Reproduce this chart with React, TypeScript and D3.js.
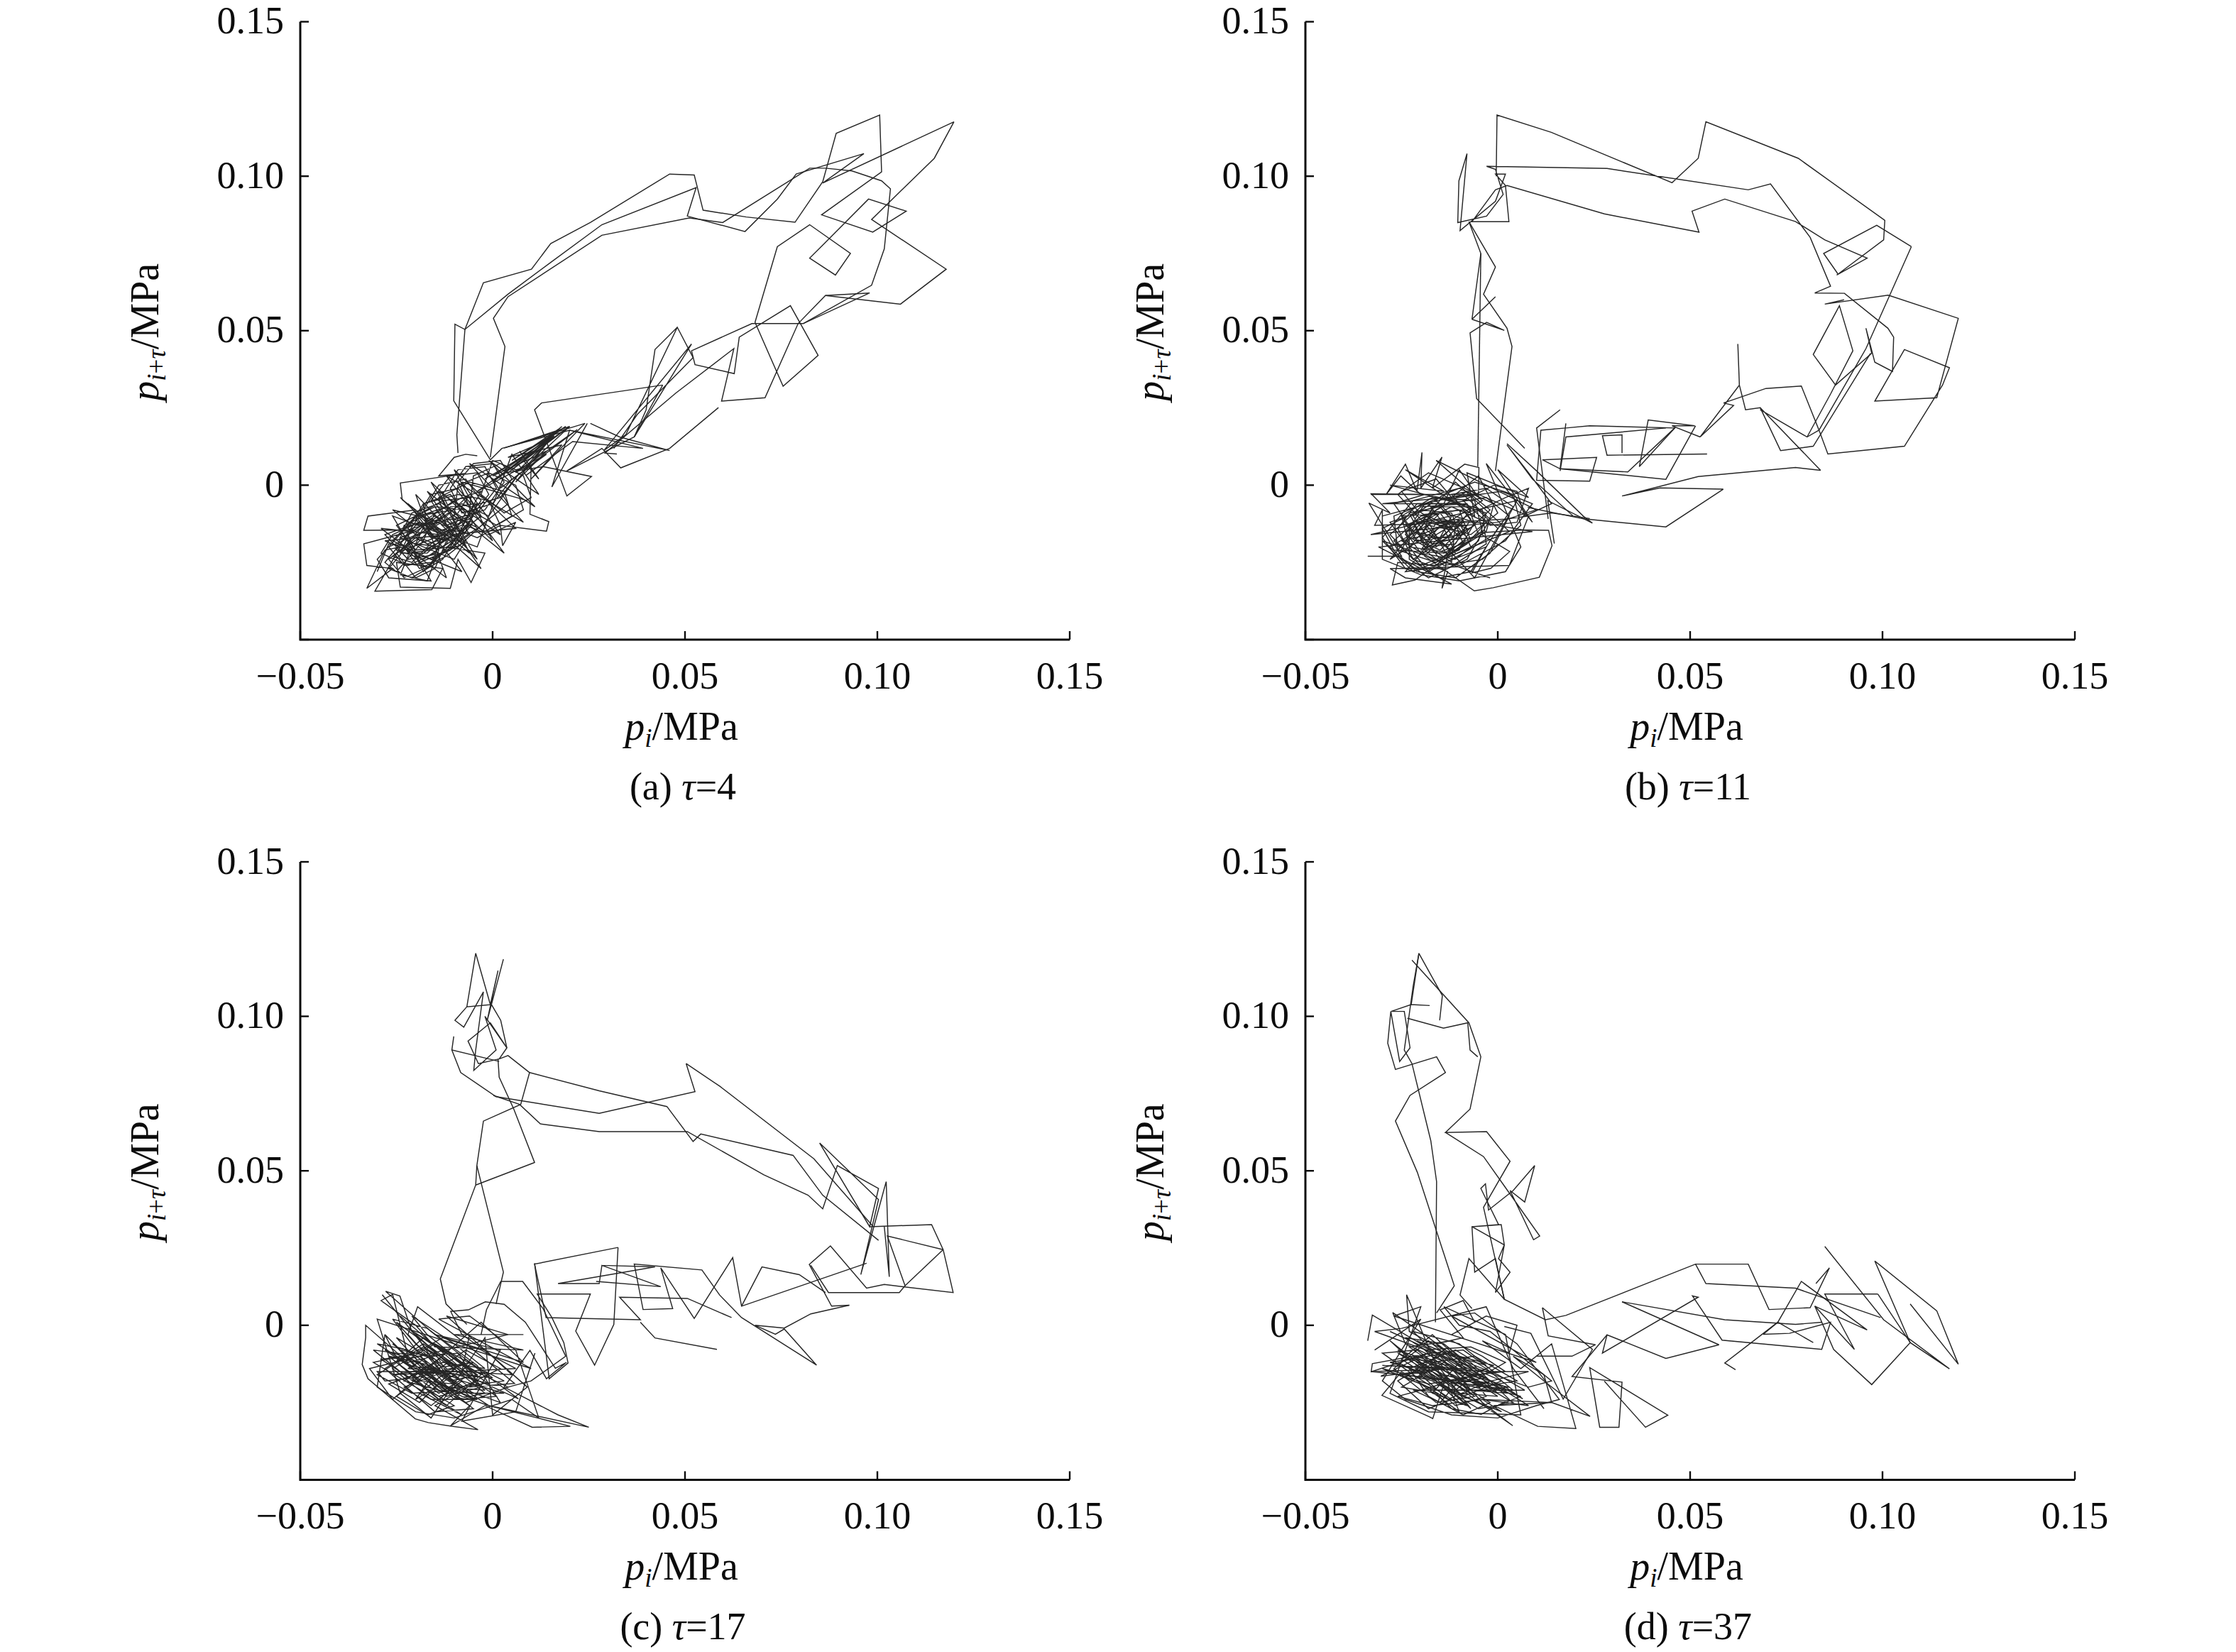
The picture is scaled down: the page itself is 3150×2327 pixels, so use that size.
import React from "react";
import * as d3 from "d3";

type P = [number, number];
const xTickValues = [-0.05, 0, 0.05, 0.1, 0.15];
const yTickValues = [-0.05, 0, 0.05, 0.1, 0.15];
const tickLabels = ["\u22120.05", "0", "0.05", "0.10", "0.15"];
const panelLetters = ["a", "b", "c", "d"];
const panelTaus = ["4", "11", "17", "37"];

const tau4Outer1: P[] = [[-0.6,8.2],[-10.1,27.3],[-9.8,52.1],[-7.2,50.4],[-2.4,65.5],[10.1,69.9],[15.1,78.2],[25.4,85],[46,100.7],[52.4,100.4],[54.7,89],[65.9,86.8],[78.6,85.1],[85.8,98.2],[89.3,113.9],[100.6,119.8],[101.1,101.4],[85.5,87.5],[98.8,81.9],[107.5,88.7],[97.7,92.6],[85.8,77.7],[82.4,73.5],[89.1,68],[93,75],[82.4,84.3],[74,77.2],[68.2,52.7],[75.5,32],[84.6,42],[77.4,58.1],[64.1,47.9],[62.8,36.1],[52.6,39],[51.7,43.5],[67.4,52.3],[80.7,52.3],[98,62.2],[86.5,61.4],[79.4,52.3],[70.8,28.3],[59.5,27.2],[62.7,44.2],[47.6,29.8],[29.2,10.4],[32.3,10.1]];
const tau4Outer2: P[] = [[-9,10.4],[-9.3,16.3],[-7.2,50.4],[4,61.8],[15.1,72.1],[28.4,84.3],[52.9,96.3],[50.6,87.1],[65.6,82.1],[74,92.6],[78.9,100.7],[96.5,107.3],[85.8,97.8],[119.9,117.6],[114.8,105.8],[98.5,86],[117.9,69.9],[106,58.6],[86.5,61.4]];
const tau4Outer3: P[] = [[-0.6,9],[3.2,44.9],[0.2,54],[4,61],[28.4,80.9],[51.1,86.5],[59.8,85],[82.4,102.6],[86.5,102.6],[93.4,101.7],[101.1,98.5],[103.4,95.9],[101.8,76.5],[98.5,64.7],[80.7,52.3]];
const tau4Lower: P[][] = [
  [[48,51.1],[42.2,43.9],[39.9,24.4],[36.8,15.6],[51.7,45.7],[28.9,11.2],[34.6,16.3],[48,51.1],[52.1,41.3],[37.6,22.9],[31.5,11.9]],
  [[58.7,25.1],[46,11.9],[33.3,5.6],[28.4,11.9],[19.3,4.6]],
  [[44.2,32.4],[12.7,26.6],[10.9,24.4],[19.3,-3.5],[25.7,2.8],[13.1,6],[2.4,3.8]],
  [[24.6,20],[15.4,-0.6],[20,17.8],[2.4,11.9],[-0.6,8.2]],
  [[25.4,20],[33,15.6],[46,11.2],[20,17.8],[39.1,11.9],[20.8,14.1],[8.6,3.1]],
  [[44.2,32.4],[36.8,15.6],[19.3,4.6]],
  [[2,4],[19,19],[5,8],[17,18],[8,5],[20,19],[3,12],[24,20],[10,2],[18,13],[4,9],[15,15],[6,1],[14,11],[0,3],[11,12]],
  [[-2,2],[12,12],[4,4],[20,19],[-4,-2],[14,10],[2,-1],[22,18],[6,4],[16,16],[0,1],[18,19],[8,8],[12,2],[7,11]],
];
const tau4Cluster: P[] = [[-4,9.5],[-7,10],[-10,9],[-14,3],[-7,3.8],[-24,0.7],[-23.5,-4.7],[-20,-8],[-32.4,-10],[-33.5,-14.6],[-20,-14.5],[-33.5,-19],[-32.7,-26],[-26,-27],[-32.7,-33.4],[-28,-21],[-24,-20],[-30.6,-34.3],[-15.8,-33.8],[-13,-27],[-25,-25],[-24,-33],[-11,-33.4],[-9,-24],[-5.6,-31.5],[-2,-22],[-12,-20],[-18,-28],[-22,-18],[-14,-12],[-8,-19],[-16,-24],[-26,-18],[-20,-10],[-10,-8],[-6,-16],[-13,-22],[-22,-24],[-28,-16],[-19,-12],[-12,-16],[-17,-22],[-24,-22],[-21,-14],[-11,-11],[-5,-12],[-10,-20],[-20,-21],[-25,-13],[-15,-7],[-7,-8],[-4,-14],[-9,-18],[-16,-17],[-20,-10],[-13,-5],[-6,-4],[-3,-10],[-8,-15],[-17,-14],[-18,-6],[-9,-3],[-1,-5],[2,-13],[-4,-17],[-12,-13],[-14,-4],[-6,1],[3,-2],[5,-10],[-2,-15],[-10,-10],[-9,0],[-1,4],[6,0],[8,-8],[1,-13],[-6,-8],[-5,3],[2,7],[8,3],[10,-4],[3,-9],[-3,-3],[0,8],[6,5],[10,6],[9.7,-9.4],[14.6,-11.8],[14,-14.9],[2,-13],[2.6,-19.6],[6,-12],[-1,-16],[-7,-13],[-11,-19],[-16,-25],[-23,-26],[-27,-20],[-18,-15],[-12,-18],[-15,-27],[-20,-30],[-25,-22],[-17,-18],[-9,-14],[-13,-9],[-20,-15],[-24,-17],[-18,-20],[-10,-24],[-7,-18],[-14,-14],[-22,-12],[-26,-8],[-16,-11],[-11,-14],[-17,-20],[-21,-25],[-26,-23],[-19,-17],[-15,-19],[-20,-24]];
const tau4Cluster2: P[] = [[-30,-28],[-27,-19],[-21,-20],[-24,-29],[-17,-31],[-14,-21],[-20,-17],[-27,-24],[-23,-30],[-16,-26],[-13,-16],[-19,-12],[-26,-16],[-29,-22],[-22,-26],[-15,-22],[-11,-14],[-16,-9],[-23,-13],[-25,-21],[-18,-24],[-12,-19],[-9,-11],[-14,-6],[-21,-9],[-24,-16],[-18,-21],[-11,-17],[-7,-9],[-11,-3],[-18,-6],[-22,-14],[-17,-19],[-9,-16],[-5,-7],[-9,-1],[-16,-3],[-20,-11],[-16,-17],[-8,-13],[-3,-5],[-7,2],[-14,0],[-18,-8],[-14,-15],[-6,-11],[-1,-3],[-4,4],[-11,3],[-16,-5],[-12,-13],[-4,-9],[1,-1],[-2,6],[-9,5],[-13,-3],[-10,-11],[-2,-8],[3,1],[0,7],[-7,6],[-11,-1],[-8,-9],[0,-6],[5,2],[2,8],[-5,7],[-9,1],[-6,-7],[2,-4],[7,4],[-1,-10],[-8,-6],[-15,-12],[-21,-18],[-27,-27],[-21,-30],[-13,-24],[-8,-14],[-15,-10],[-22,-16],[-19,-25],[-11,-21],[-6,-12],[-12,-7],[-19,-10],[-24,-19],[-17,-27],[-10,-18],[-5,-10],[-10,-5],[-17,-11],[-20,-19],[-13,-20],[-7,-15],[-4,-6],[-11,-7],[-17,-15],[-14,-18],[-7,-11],[-3,-2],[-8,-4],[-15,-9],[-18,-18],[-25,-28],[-28,-25],[-20,-13],[-13,-11],[-10,-16],[-16,-21],[-22,-22],[-16,-14],[-9,-9],[-6,-3],[-12,-10],[-18,-13],[-23,-20],[-19,-27],[-12,-23],[-9,-20],[-2,-12],[4,-6],[0,2]];
const tau4Rim: P[] = [[-24,-4],[-14,-16],[-29,-14],[-12,-30],[-20,-3],[-4,-24],[-16,1],[0,-18],[-10,5],[6,-14],[-28,-18],[-8,-28],[-22,-6],[-3,-27],[-17,-2],[3,-22],[-12,3],[8,-12],[-6,7],[11,-7],[-1,8],[12,-3],[5,10],[-4,-20],[-26,-10],[-16,-31],[-27,-30],[-30,-24],[-19,-9],[-6,-22],[-14,-2],[2,-16],[-8,1],[9,-5]];

const tau11Outer1: P[] = [[-0.4,100],[-0.2,119.8],[13.9,114.2],[45.3,97.9],[52.1,105.8],[54.1,117.6],[78.1,105.8],[100.6,85.7],[100.3,79.4],[88.1,68],[96,73.5],[85,79.4],[77.4,85.3],[59,92.6],[50.5,88.7],[52.3,81.9],[27.7,87.8],[2.4,97],[-0.6,95.6],[-6.7,85.3],[2.9,85.3],[2,97],[-0.6,100.7],[2,100.7],[-0.6,91.9],[-9.8,82.4],[-8,107.3],[-10.1,98.5],[-10.4,85],[-2.9,87.1],[1.4,94.1],[-0.6,102.2],[-2.9,103.2],[28.4,102.5],[65.1,95.6],[70.9,97.5],[81.2,80.2],[86.5,64.4],[82.4,62.2],[90.1,62.1],[101.4,50.8],[102.9,47.9],[102.6,36.8],[98,39.8],[95.7,50.8],[97.2,42.7],[87.8,32.4],[82,42.3],[88.8,58.1],[92.3,43.5],[86.5,29.5],[80.4,15.6]];
const tau11Outer2: P[] = [[107.5,77.2],[98.5,84.1],[84.7,75],[88.4,68.4]];
const tau11Outer3: P[] = [[107.5,77.2],[95.7,44.2],[83.5,17.8],[85.8,10.1],[105.7,12.6],[115.6,32.4],[117.4,38],[105.7,43.9],[98,27.2],[114.1,28.3],[119.7,54],[101.5,61.5],[85,58.6],[90,60]];
const tau11Lower: P[][] = [
  [[68.2,25.1],[73.5,11.2],[82,12.6],[96.9,42.7]],
  [[83.9,4.8],[68.2,25.1],[64.4,24.4],[62.8,32.4],[62.4,45.7],[62.8,32.4],[52.6,15.6],[61.3,25.8],[58.7,26.6],[69.7,31.3],[78.9,32.1],[83.5,17.8],[80.4,15.6],[68.2,24.4]],
  [[83.9,4.8],[77.4,5.7],[52.1,2.8],[32.3,-3.5],[42.2,-0.9],[58.6,-1.3],[43.7,-13.5],[22.3,-10.9],[7.8,-7.2]],
  [[52.6,15.6],[45.3,19.2],[51.2,19.2],[39.1,21.1],[36.8,6],[46,18.5],[23.9,19.2],[17.7,18.5],[11.2,17.8],[10.1,1.6],[23.9,1.3],[25.7,9],[11.6,8.2],[16.2,5.3],[43.7,1.9],[51.4,19.2]],
  [[54.4,10.1],[28.4,9.7],[27.2,16],[32.3,16.3],[32.3,10.4]],
  [[16.2,24.4],[10.1,18.5],[13.1,-10.9]],
  [[17.7,20],[16.2,5.3],[33.8,4.3],[46,18.5]],
  [[43.7,18.5],[17.7,15.6],[16.2,4.6]],
  [[2.4,13.4],[10.1,4.6],[22.3,-10.1],[24.6,-12.3],[13,-5],[14.7,-18.9]],
  [[-7.5,85.3],[-0.6,70.6],[-3.7,61.8],[2.4,50.8],[3.7,44.9],[-0.6,4.6]],
  [[-6.7,53.7],[1.7,50.1],[-2.9,52.7],[-7.2,49.3],[-5.5,28],[7,11.9]],
  [[-7.5,85.3],[-4.4,75],[-6.7,53.7],[-0.6,61]],
  [[-4.4,75],[-5.2,6]],
];
const tau11Cluster: P[] = [[-33.8,-23],[-25,-23],[-33.5,-5.8],[-28,-9],[-32.9,-2.8],[-20,-3],[-25.2,3],[-29,-3],[-24,6.8],[-21,-2],[-19.7,10.6],[-20,-1],[-14.5,9.1],[-17,-1],[-8.6,6.8],[-4.9,5.7],[-5,-4],[-10,5],[-14,-6],[-28,-12],[-24,-19],[-16,-8],[-8,-2],[-2,-8],[-9,-16],[-21,-18],[-25,-10],[-17,-4],[-6,-5],[-4,-15],[-14,-22],[-27,-21],[-30,-14],[-20,-8],[-12,-9],[-9,-19],[-16,-26],[-26,-25],[-27.4,-32.3],[-21.5,-30.7],[-14,-24],[-7,-20],[-10,-12],[-19,-11],[-24,-15],[-20,-22],[-11,-24],[-5,-18],[-3,-9],[-11,-6],[-21,-6],[-26,-14],[-22,-24],[-13,-28],[-14.5,-33.4],[-13,-22],[-8,-14],[-14,-11],[-22,-12],[-19,-20],[-11,-19],[-7,-11],[-12,-3],[-3,-1],[4,-7],[-1,-16],[-9,-22],[-18,-28],[-23,-20],[-18,-13],[-10,-15],[-15,-21],[-22,-17],[-17,-9],[-9,-8],[-6,-13],[-12,-17],[-18,-17],[-16,-12],[-10,-11],[-13,-15],[-19,-23],[-6.1,-34.2],[-1.2,-33.2],[10.8,-29.8],[14.1,-19.6],[13.2,-14.6],[7,-14.5],[-5,-15.4],[3.1,-21.5],[-1.8,-26.9],[-6.7,-28.4],[-3,-20],[-18,-27],[-24,-28],[-16,-16],[-8,-10],[2,-4],[8,-1],[5,-12],[-2,-13],[-9,-5],[-1,0],[5,-2],[7,-10],[14,-6],[8,4],[2.4,13],[9,2],[19.6,-10],[23.9,-10.8],[14,-9],[2,-11],[-12,-12],[-20,-16],[-15,-24],[-8,-17],[-15,-7],[-23,-9],[-19,-19]];
const tau11Cluster2: P[] = [[-30,-10],[-18,-6],[-12,-16],[-22,-24],[-28,-16],[-20,-7],[-8,-6],[-5,-16],[-16,-25],[-26,-21],[-27,-10],[-15,-4],[-4,-8],[-3,-19],[-13,-27],[-24,-27],[-30,-17],[-22,-5],[-10,-1],[-1,-6],[-3,-15],[-12,-22],[-23,-20],[-25,-10],[-14,-9],[-6,-12],[-10,-21],[-20,-26],[-27,-18],[-20,-10],[-10,-8],[-7,-18],[-16,-22],[-24,-16],[-19,-6],[-9,-3],[-2,-11],[-8,-24],[-18,-30],[-26,-23],[-21,-12],[-11,-12],[-12,-25],[-20,-18],[-17,-7],[-6,-7],[0,-14],[-7,-28],[-15,-30],[-23,-24],[-23,-13],[-13,-6],[-3,-4],[3,-10],[-2,-22],[-11,-30],[-21,-28],[-28,-20],[-17,-12],[-8,-13],[-13,-20],[-19,-14],[-15,-9],[-10,-17],[-17,-19],[-22,-10],[-14,-3],[-6,1],[4,-3],[6,-13],[-4,-24],[-14,-26],[-19,-21],[-12,-14],[-18,-10],[-24,-13],[-16,-20],[-9,-12],[-15,-13],[-20,-21],[-13,-17],[-7,-8],[-11,-5],[-19,-3],[-27,-6],[-22,-15],[-15,-17],[-12,-10],[-16,-5],[1,-2],[9,-6],[2,-18],[-10,-26],[-17,-24],[-25,-18],[-18,-16],[-11,-22],[-14,-14],[-21,-8],[-25,-2],[-16,2],[-12,-4],[-5,3],[0,-9],[-7,-16],[-18,-12],[-13,-23],[-8,-19],[-3,-12],[-12,-7],[-20,-12]];
const tau11Rim: P[] = [[-33,-3],[-5,-3],[-30,-6],[-10,-6],[-28,0],[-14,-2],[-24,5],[-6,-10],[-8,4],[8,-4],[0,5],[9,-12],[-3,7],[6,-20],[2,-28],[-10,-31],[-20,-29],[-30,-24],[-30,-8],[-32,-13],[-5,-12],[9,-15],[-31,-20],[-12,-32],[-24,-30],[-28,-27],[3,-26],[8,-10],[-18,4],[-26,-3],[-6,-30],[5,-5],[-33,-16],[0,-12],[10,-8],[-16,8],[-4,-5],[-28,-24],[-11,1],[3,-15],[-22,-28],[-30,-18],[-2,-30]];

const tau17Outer1: P[] = [[2.8,118.5],[-1.4,98.7],[1.4,114.8],[-0.6,103.8],[-4.4,120.4],[-6.7,103.1],[-0.3,103.8],[2.1,98.7],[3.7,89.8],[1.7,86.2],[4,87.3],[9.6,81.8],[7.3,71.5],[-2.4,66.1],[-4.1,51.7],[-4.4,45.4],[-13.6,15],[-12.1,6.9],[-6.7,0.3]];
const tau17Outer2: P[] = [[-4.1,51.7],[2.8,17.2],[0.9,6.9]];
const tau17Outer3: P[] = [[10.9,52.7],[-4.4,45.4],[10.9,52.7],[5.5,70],[1.7,80.3],[1.4,86.2]];
const tau17Upper: P[][] = [
  [[-10.1,93.5],[-10.6,89.1],[1.7,85.4]],
  [[-10.6,89.1],[-8.3,81.8],[0.9,74],[27.7,68.6],[52.6,75.6],[50.3,84.7],[59,77.4],[83.5,53.9],[98.8,32.1]],
  [[-6.7,103.1],[-9.8,98.7],[-7.5,96.5],[-2.4,107.9],[-4.4,89.1],[-4.9,82.5],[0.9,89.1],[-2,100],[3.7,89.8],[-0.6,97.9],[-6.4,92],[-3.7,84.7],[1.7,86.2]],
  [[9.6,81.8],[27.7,75.9],[45.3,70.8],[52.1,59.5],[54.1,61.9],[78.1,55],[85.8,42.1],[100.3,27.5]],
  [[0.2,74.4],[7,71.5],[12.4,65.2],[27.7,62.7],[50.6,62.7],[70.5,48.7],[82,42.1],[85.8,37.7],[89.6,51.7],[100.3,44.3],[98,31.9],[85,59],[100.3,40.7],[95.7,16.4],[101.8,44.3],[102.3,46.5],[103.1,15.7],[101.8,31.9]],
];
const tau17Lower: P[][] = [
  [[98,31.9],[114.1,32.6],[117.1,24.5],[119.7,10.6],[101.8,13.2],[97.2,12],[87.8,25.7],[82.3,19.7],[88.1,6.2],[92.7,6.5]],
  [[117.1,24.5],[102.6,28.9],[107.2,12.8],[105.7,10.6],[87.3,10.6],[82.7,19.4]],
  [[107.2,12.8],[117.1,24.5]],
  [[97.2,20.1],[64.7,6.2],[62.4,21.9],[52.4,2.2],[43.7,18.6],[46.8,5.4],[39.1,5.1],[36.8,19.8],[54.4,17.9],[59,9.8],[64.7,2.5],[84.2,-12.9],[75.8,-1.2],[73.5,-2.9],[68.2,0],[75.8,-0.9],[82.7,3.7],[92.7,6.5]],
  [[64.7,6.2],[70,18.9],[79.7,16.4],[86.5,10.6]],
  [[28.4,19.4],[42.2,18.9],[17,13.5],[27.7,13.5],[28.4,19.4],[43.7,12.5],[26.9,14.2]],
  [[32.6,25.2],[10.9,19.8],[13.9,2.5],[38.4,1.8],[33,9.1],[50.6,8.7],[62.1,2.5]],
  [[32.6,25.2],[31.5,0.3],[26.5,-12.9],[21.6,-1.9],[25.4,10.1],[11.6,10.1],[15.4,2.5],[18.5,-5.6],[19.6,-12.2],[14.7,-17.3],[10.9,20.1]],
  [[58.3,-7.8],[42.2,-4.1],[38.4,1]],
  [[2.1,14.2],[7.8,14.2],[13.1,5.4],[19,-10],[10,-18],[4,-20]],
  [[2.1,14.2],[-1.6,5],[-3,-3]],
];
const tau17Cluster: P[] = [[-28.7,9.9],[-17,-8],[-9,-15],[0,-20],[6.7,-23.8],[-4,-14],[-16,-2],[-27.8,11],[-24.1,9.5],[-21,-2],[-12,-12],[-2,-22],[-10,-24],[-22,-8],[-30,-6],[-20,-14],[-8,-23],[-1,-26],[-12,-17],[-22,-3],[-19.5,6],[-8,-5],[-2,-11],[5.7,-18.8],[-6,-20],[-17,-10],[-25,-4],[-14,-19],[-4,-24],[-16,-24],[-26,-14],[-15,-6],[-5,-13],[3,-18],[-9,-20],[-19,-12],[-28,-8],[-16,-18],[-6,-26],[-11,-32.6],[-16.7,-31.5],[-20.1,-30.3],[-32.4,-17.3],[-33.9,-12.7],[-33,-4],[-33,0],[-22,-12],[-12,-9],[-3,-16],[-12,-26],[-20,-20],[-31,-12],[-20,-9],[-13,-4],[-3,-8],[6,-14],[-26,-16],[-5,-12],[-20,-24],[-15,-15],[-7,-8],[2,-14],[-11,-22],[-23,-18],[-17,-13],[-8,-18],[-14,-24],[-21,-17],[-13,-10],[-6,-16],[-14,-22],[-25,-12],[-18,-4],[-10,-10],[-4,-18],[-15,-26],[-3.8,-33.8],[-11,-32.6],[-2,-26],[10.3,-33],[20.2,-32.7],[-1.7,-25.8],[25,-33],[17,-29],[3,-20],[9.7,-8.1],[14,-17.3],[19.2,-12],[16.3,-13.9],[8.5,1],[3,6.8],[-1.9,7.6],[-6.3,5],[-10.9,4.5],[-8,-3],[-1,-9],[5,-16],[-7,-15],[-18,-7],[-24,-11],[-13,-21],[-5,-22],[-16,-13],[-27,-10],[-19,-18],[-10,-19],[-15,-9],[-22,-14],[-11,-15]];
const tau17Cluster2: P[] = [[-24,3],[-10,-12],[-2,-21],[-12,-20],[-26,-6],[-16,-16],[-5,-27],[-15,-28],[-28,-14],[-18,-6],[-6,-17],[1,-23],[-9,-24],[-23,-10],[-29,-11],[-14,-23],[-4,-19],[-14,-9],[-25,1],[-20,-6],[-8,-18],[3,-22],[-6,-22],[-19,-10],[-31,-8],[-22,-17],[-10,-26],[-17,-29],[-25,-23],[-13,-12],[-2,-14],[-10,-6],[-21,3],[-17,-3],[-6,-14],[4,-20],[-7,-25],[-20,-13],[-28,-3],[-24,-13],[-13,-25],[-8,-29],[-19,-22],[-12,-15],[-1,-19],[-11,-10],[-22,-1],[-13,-8],[-4,-16],[-11,-18],[-21,-9],[-30,-16],[-21,-22],[-9,-21],[-15,-11],[-25,-7],[-15,-20],[-7,-11],[0,-17],[-8,-16],[-18,-15],[-27,-19],[-19,-25],[-10,-14],[-20,-3],[-14,-14],[-5,-24],[-13,-19],[-24,-8],[-16,-10],[-9,-9],[-3,-20],[-12,-23],[-22,-13],[-16,-14],[-7,-21],[2,-25],[-4,-13],[-17,-1],[-26,2],[-18,-11],[-11,-21],[-16,-26],[-23,-20],[-19,-18],[-8,-13],[-20,-17],[-28,-18],[-30,-15],[-8,-15],[-6,-3],[8,-3],[-10,-3],[8,-8],[-15,-7],[-20,0],[-29,8],[-26,10],[-22,-10]];
const tau17Rim: P[] = [[-28,-3],[-30,-20],[-20,-28],[-10,-30],[5,-24],[12,-30],[6,-8],[-6,3],[-14,2],[10,-14],[-30,2],[-24,-22],[-16,-30],[-2,-4],[0,-29],[9,-20],[-12,3],[4,-3],[-32,-14],[-26,-24],[-3,1],[8,-12],[-15,-3],[2,-8],[-8,-31],[6,-28],[11,-9]];

const tau37Outer1: P[] = [[-15.1,98.7],[-14.4,106.7],[-20.5,120.4],[-22.5,103.8],[-17.7,103.5],[-22.5,103.8],[-27.7,101.6],[-24.3,101.6],[-22.8,89.8],[-25.5,85.4],[-27.8,101.6],[-28.6,91.3],[-26.6,82.8],[-15.9,86.9],[-13.6,81.8],[-22.8,74.4],[-26.6,66.1],[-20.9,49.5],[-11.3,12.8],[-15.9,4]];
const tau37Outer2: P[] = [[-22.3,118.2],[-7.5,97.9],[-4.4,86.9],[-7.2,70],[-13.6,62.4],[-2.9,62.7],[3.2,53.1],[-3.7,38.2],[1.7,8.4],[12.4,1.8],[17.7,3.2],[51.4,19.8],[65.1,19.8],[70.5,5.1],[81.2,5.7],[86.2,18.6],[82.7,13.5]];
const tau37Upper: P[][] = [
  [[-23.5,99.4],[-14.1,96.2],[-7.8,97.9],[-7.2,89.1],[-5.2,86.9]],
  [[-20.5,120.4],[-22,109.7],[-24.3,89.1],[-22.3,84.7],[-17.4,59.7],[-15.9,46.5],[-16.2,1]],
  [[-13.6,62.4],[-3.7,54.6],[1.7,45.1],[10.9,28.9],[9.3,27.7],[3.2,43.6],[7,39.9],[9.6,51.7],[4,43.6],[-2.4,37.3],[-3.2,45.8],[-4.4,44.3],[0.2,32.6],[-6.7,31.9],[1.7,26],[0.2,21.6],[3.2,17.2],[-0.6,10.6],[1.7,26],[0.9,32.6],[-6.7,31.9],[-6,17.2],[-0.6,21.6],[1.7,8.4],[-7.5,21.6],[-9.8,9.8],[-6.7,5.4]],
];
const tau37Lower: P[][] = [
  [[51.4,19.8],[54.1,13.5],[77.4,12],[99.5,2.5]],
  [[85,25.5],[100.3,1.8],[117.4,-14.1],[107.2,-5.6],[98,20.8],[114.1,4.7],[119.7,-12.6],[107.2,6.9]],
  [[98.8,10.1],[85,10.1],[92.7,-7.8],[82.4,6.2],[96,-1.5],[78.9,14.2],[72.8,1],[59,-12.2],[61.8,-14.4]],
  [[98.8,10.1],[107.2,-5.6],[97.2,-19.2],[87.3,-7.8],[82.4,6.2]],
  [[32.3,7.6],[57.5,-6.3],[43.7,-10.7],[28.4,-3.1],[27.2,-9],[52.1,9.1],[50.6,9.5],[58.3,-4.8],[84.2,-7.8],[86.5,1],[75.8,-2.6],[69,-2.9],[72.8,1],[82,-5.6]],
  [[32.3,7.6],[59,1.8],[77.4,0.3],[84.2,1]],
  [[11.6,5.7],[13.1,-3.4],[25.4,-6.3],[19.3,-10],[10.1,-10]],
  [[11.6,5.7],[24.6,-7.8],[17,-23.9],[8.6,-2.6],[1.7,-0.4]],
  [[28.4,-3.1],[19.3,-16.6],[32.3,-18.4],[31.5,-33],[26.5,-33],[23.9,-13.7],[44.2,-29.1],[38.4,-33],[27.7,-18.1]],
];
const tau37Cluster: P[] = [[-33.8,-5],[-32.6,3.3],[-20,-6],[-9,-14],[2,-20],[6.5,-23.8],[-6,-15],[-18,-4],[-27.3,4.1],[-24,-6],[-12,-13],[0,-23],[-10,-22],[-22,-10],[-32.6,-12.4],[-32.9,-15],[-18,-9],[-30.4,-16.5],[-14,-14],[-2,-18],[-13,-24],[-25,-15],[-30.1,-22.7],[-17.8,-29.6],[-16.9,-30.2],[-14,-19],[-23.7,9.9],[-23,-2],[-17,-6],[-7,-12],[3,-24],[-4.3,-28.8],[-12,-27],[-16,-22],[-25,-20],[-14,-12],[-5,-20],[5,-18],[-6,-10],[-17,-12],[-21,-17],[-11,-18],[-2,-25],[-9,-29],[-18,-23],[-23,-14],[-11,-8],[-3,-14],[4,-21],[-8,-19],[-19,-11],[-26,-8],[-14,-16],[-6,-24],[3.9,-32.5],[-4,-25],[-15,-10],[-21,-5],[-10,-11],[0,-16],[7,-21],[-3,-21],[-13,-21],[-22,-21],[-15,-25],[-8,-15],[-16,-6],[-9,-4],[-15,5],[-9,8],[-6,1],[-12,-3],[-3,3],[5,0],[3,-9],[-4,-5],[6,-14],[14,-6],[20.3,-33.4],[10.4,-32.7],[-1,-26],[14,-25],[24,-29.5],[13,-19],[4,-10],[12,-16],[14,-25],[-4,-24],[1,-28],[-11,-22],[-20,-15],[-28,-12],[-13,-9],[-1,-13],[-9,-17],[-18,-19],[-26,-16],[-17,-15],[-7,-22],[-12,-16],[-19,-8],[-7,-7],[2,-12],[-5,-17],[-13,-13],[-21,-11],[-16,-18],[-10,-25]];
const tau37Cluster2: P[] = [[-28,-2],[-14,-10],[-3,-17],[-13,-19],[-26,-9],[-17,-14],[-6,-23],[-16,-25],[-27,-14],[-18,-5],[-8,-15],[3,-22],[-7,-21],[-21,-8],[-30,-9],[-22,-16],[-12,-24],[-18,-27],[-26,-18],[-14,-9],[-3,-13],[-10,-6],[-22,-2],[-18,-7],[-7,-17],[4,-25],[-5,-27],[-17,-18],[-30,-14],[-20,-19],[-10,-28],[-14,-16],[-2,-20],[-11,-14],[-24,-4],[-14,-6],[-5,-15],[-12,-22],[-22,-12],[-28,-5],[-19,-14],[-8,-26],[-17,-22],[-10,-12],[1,-18],[-9,-23],[-20,-10],[-15,-12],[-6,-19],[6,-23],[-2,-27],[-15,-19],[-25,-11],[-17,-3],[-11,-10],[-3,-23],[-11,-26],[-21,-15],[-13,-7],[-7,-14],[0,-22],[-9,-19],[-18,-17],[-26,-12],[-13,-20],[-7,-27],[-15,-14],[-23,-7],[-12,-5],[-4,-10],[2,-15],[-6,-16],[-19,-12],[-24,-17],[-16,-21],[-5,-21],[3,-20],[-10,-17],[-22,-10],[-17,-9],[-9,-8],[-1,-15],[-12,-18],[-20,-21],[-26,-23],[-17,-26],[-4,-24],[8,-26],[-1,-19],[-33,-15],[-8,-14],[-30,-13],[-2,-15],[8,-15],[-8,-20],[-16,-16]];
const tau37Rim: P[] = [[-32,-8],[-20,2],[-30,-18],[-24,-24],[-12,-29],[0,-30],[10,-26],[16,-24],[5,-6],[-6,4],[-12,3],[10,-12],[-27,3],[-20,6],[-28,-22],[-18,-28],[6,-29],[2,-3],[-14,6],[-10,0],[-2,-2],[14,-18],[8,-20],[-32,-2],[-25,-1],[-3,6],[4,-14],[12,-27]];

const panelStrands: P[][][] = [
  [tau4Outer1, tau4Outer2, tau4Outer3, ...tau4Lower, tau4Cluster, tau4Cluster2, tau4Rim],
  [tau11Outer1, tau11Outer2, tau11Outer3, ...tau11Lower, tau11Cluster, tau11Cluster2, tau11Rim],
  [tau17Outer1, tau17Outer2, tau17Outer3, ...tau17Upper, ...tau17Lower, tau17Cluster, tau17Cluster2, tau17Rim],
  [tau37Outer1, tau37Outer2, ...tau37Upper, ...tau37Lower, tau37Cluster, tau37Cluster2, tau37Rim],
];

const panelLeft = [423, 1839];
const panelTop = [30.6, 1214];
const plotW = 1084;
const plotH = 870.4;
const serif = "'Liberation Serif', 'Times New Roman', serif";
const FS = 54;
const LABEL = 56;
const SUB = 37;

function Panel({ index }: { index: number }) {
  const left = panelLeft[index % 2];
  const top = panelTop[Math.floor(index / 2)];
  const x = d3.scaleLinear().domain([-0.05, 0.15]).range([left, left + plotW]);
  const y = d3.scaleLinear().domain([-0.05, 0.15]).range([top + plotH, top]);
  const line = d3.line<P>().x((d) => x(d[0] / 1000)).y((d) => y(d[1] / 1000));
  const bottom = top + plotH;
  const cx = left + plotW / 2;
  return (
    <g fontFamily={serif} fontSize={FS} fill="#0c0c0c">
      <g fill="none" stroke="#262626" strokeWidth={1.45} strokeLinejoin="miter" strokeMiterlimit={3}>
        {panelStrands[index].map((s, i) => (
          <path key={i} d={line(s) ?? ""} />
        ))}
      </g>
      <path d={`M${left},${top}V${bottom}H${left + plotW}`} fill="none" stroke="#0c0c0c" strokeWidth={3} />
      {xTickValues.map((t, i) => (
        <g key={i}>
          <line x1={x(t)} x2={x(t)} y1={bottom} y2={bottom - 12} stroke="#0c0c0c" strokeWidth={2.4} />
          <text x={x(t)} y={bottom + 69} textAnchor="middle">{tickLabels[i]}</text>
        </g>
      ))}
      {yTickValues.map((t, i) => (
        <g key={i}>
          <line x1={left} x2={left + 12} y1={y(t)} y2={y(t)} stroke="#0c0c0c" strokeWidth={2.4} />
          {i > 0 ? <text x={left - 23} y={y(t) + 16.5} textAnchor="end">{tickLabels[i]}</text> : null}
        </g>
      ))}
      <text x={cx - 5} y={bottom + 141} textAnchor="middle" fontSize={LABEL}>
        <tspan fontStyle="italic">p</tspan>
        <tspan fontStyle="italic" fontSize={SUB} dy={10}>i</tspan>
        <tspan dy={-10}>/MPa</tspan>
      </text>
      <text x={cx - 3} y={bottom + 225} textAnchor="middle">
        {`(${panelLetters[index]}) `}
        <tspan fontStyle="italic">τ</tspan>
        {`=${panelTaus[index]}`}
      </text>
      <text transform={`translate(${left - 200},${top + plotH / 2 + 2}) rotate(-90)`} textAnchor="middle" fontSize={LABEL}>
        <tspan fontStyle="italic">p</tspan>
        <tspan fontStyle="italic" fontSize={SUB} dy={10}>i</tspan>
        <tspan fontSize={SUB}>+</tspan>
        <tspan fontStyle="italic" fontSize={SUB}>τ</tspan>
        <tspan dy={-10}>/MPa</tspan>
      </text>
    </g>
  );
}

export default function App() {
  return (
    <svg width={3150} height={2327} viewBox="0 0 3150 2327" style={{ position: "absolute", left: 0, top: 0, background: "#fff" }}>
      {panelLetters.map((_, i) => (
        <Panel key={i} index={i} />
      ))}
    </svg>
  );
}
